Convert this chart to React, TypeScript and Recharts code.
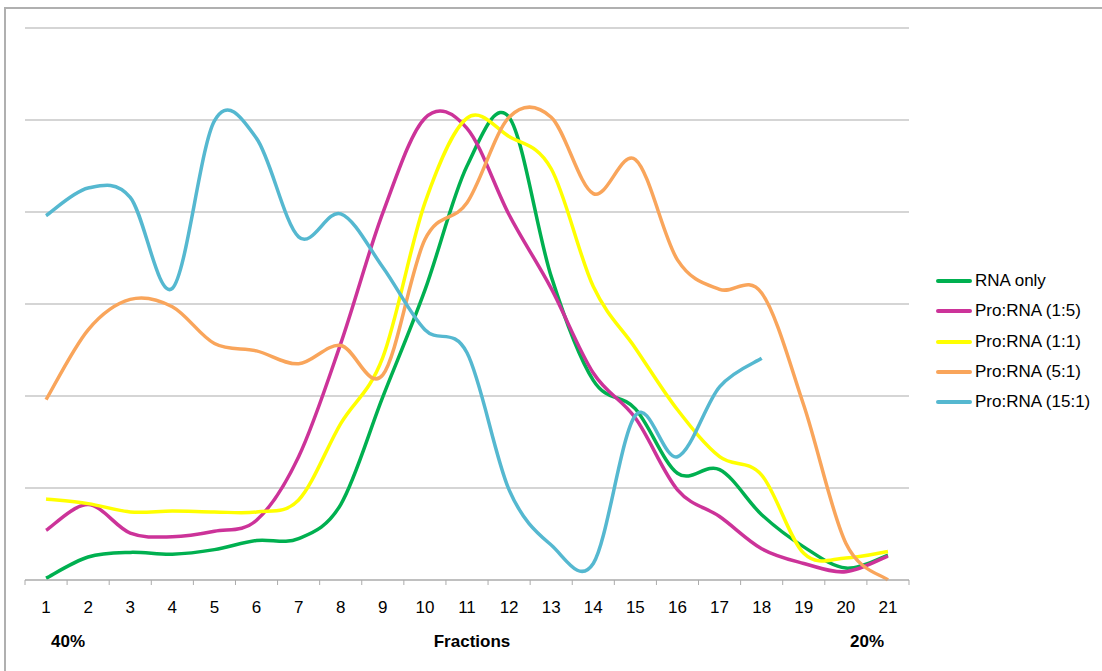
import { LineChart, Line, XAxis, YAxis, CartesianGrid, Legend } from "recharts";

const fractions = ["1", "2", "3", "4", "5", "6", "7", "8", "9", "10", "11", "12", "13", "14", "15", "16", "17", "18", "19", "20", "21"];

const rnaOnly = [0.2, 2.5, 3.0, 2.8, 3.3, 4.3, 4.5, 8.2, 19.9, 31.5, 45, 50.3, 33, 21.7, 18.6, 11.6, 12.0, 7.1, 3.6, 1.3, 2.7];
const pro1to5 = [5.4, 8.2, 5.1, 4.7, 5.3, 6.5, 13.4, 25.7, 39.9, 50.2, 49.1, 39.7, 31.7, 22.5, 17.6, 9.8, 6.9, 3.4, 1.8, 0.9, 2.6];
const pro1to1 = [8.8, 8.3, 7.4, 7.5, 7.4, 7.4, 8.7, 17.0, 24.2, 41.0, 50.2, 48.2, 44.7, 31.9, 25.2, 18.5, 13.4, 11.4, 2.9, 2.4, 3.1];
const pro5to1 = [19.6, 27.2, 30.5, 29.7, 25.7, 24.9, 23.5, 25.5, 22.3, 37.0, 41.0, 50.3, 50.3, 42.0, 45.7, 34.8, 31.6, 31.2, 19.0, 4.0, 0];
const pro15to1 = [39.6, 42.6, 41.6, 31.7, 49.9, 48.0, 37.3, 39.8, 34.0, 27.2, 24.7, 9.8, 3.8, 1.8, 17.9, 13.4, 21.0, 24.1, null, null, null];

const yTicks = [0, 10, 20, 30, 40, 50, 60];

const SERIES = [
  { key: "rna", name: "RNA only", color: "#00B050", values: rnaOnly },
  { key: "p15", name: "Pro:RNA (1:5)", color: "#CC3399", values: pro1to5 },
  { key: "p11", name: "Pro:RNA (1:1)", color: "#FFFF00", values: pro1to1 },
  { key: "p51", name: "Pro:RNA (5:1)", color: "#F9A55B", values: pro5to1 },
  { key: "p151", name: "Pro:RNA (15:1)", color: "#55B8D0", values: pro15to1 },
];

const data = fractions.map((f, i) => {
  const row: Record<string, any> = { fraction: f };
  SERIES.forEach((s) => (row[s.key] = s.values[i]));
  return row;
});

const FONT = "'Liberation Sans', Arial, sans-serif";
const GRID = "#ABABAB";
const PLOT_LEFT = 25;
const PLOT_W = 884;
const BAND = PLOT_W / fractions.length;

// Excel-style smoothed line (Catmull-Rom through every point)
function excelSmooth(context: any) {
  let pts: number[][] = [];
  return {
    areaStart() {},
    areaEnd() {},
    lineStart() {
      pts = [];
    },
    point(x: number, y: number) {
      pts.push([+x, +y]);
    },
    lineEnd() {
      if (!pts.length) return;
      context.moveTo(pts[0][0], pts[0][1]);
      for (let i = 0; i < pts.length - 1; i++) {
        const p0 = pts[i - 1] || pts[i];
        const p1 = pts[i];
        const p2 = pts[i + 1];
        const p3 = pts[i + 2] || p2;
        context.bezierCurveTo(
          p1[0] + (p2[0] - p0[0]) / 6,
          p1[1] + (p2[1] - p0[1]) / 6,
          p2[0] - (p3[0] - p1[0]) / 6,
          p2[1] - (p3[1] - p1[1]) / 6,
          p2[0],
          p2[1]
        );
      }
    },
  };
}

function FractionTick(props: any) {
  const { x, y, payload, index } = props;
  const last = index === fractions.length - 1;
  return (
    <g>
      <line x1={x - BAND / 2} x2={x - BAND / 2} y1={y} y2={y + 5} stroke={GRID} />
      {last && <line x1={x + BAND / 2} x2={x + BAND / 2} y1={y} y2={y + 5} stroke={GRID} />}
      <text x={x} y={y + 33} textAnchor="middle" fontSize={17} fill="#000" fontFamily={FONT}>
        {payload.value}
      </text>
    </g>
  );
}

function LegendBox({ payload }: any) {
  const order = SERIES.map((s) => s.name);
  const items = [...(payload || [])].sort((a: any, b: any) => order.indexOf(a.value) - order.indexOf(b.value));
  return (
    <div style={{ fontFamily: FONT, fontSize: 17, color: "#000" }}>
      {items.map((p: any) => (
        <div key={p.value} style={{ display: "flex", alignItems: "center", height: 30.25 }}>
          <div style={{ width: 36, height: 4, background: p.color, borderRadius: 2, marginRight: 3 }} />
          <span style={{ whiteSpace: "nowrap" }}>{p.value}</span>
        </div>
      ))}
    </div>
  );
}

const bottomLabel = (text: string, center: number) => (
  <div
    style={{
      position: "absolute",
      left: center - 60,
      width: 120,
      top: 633,
      textAlign: "center",
      fontFamily: FONT,
      fontSize: 17,
      fontWeight: 700,
      lineHeight: "17px",
      color: "#000",
    }}
  >
    {text}
  </div>
);

export default function App() {
  return (
    <div style={{ position: "absolute", left: 0, top: 0, width: 1102, height: 671, background: "#fff", overflow: "hidden" }}>
      <div
        style={{
          position: "absolute",
          left: 4,
          top: 7,
          width: 1110,
          height: 680,
          borderTop: "2px solid #B0B0B0",
          borderLeft: "2px solid #B0B0B0",
        }}
      />
      <LineChart
        width={1102}
        height={671}
        data={data}
        margin={{ top: 28, left: PLOT_LEFT, right: 1102 - PLOT_LEFT - PLOT_W, bottom: 61 }}
        style={{ position: "absolute", left: 0, top: 0 }}
      >
        <CartesianGrid vertical={false} stroke={GRID} strokeWidth={1.2} />
        <XAxis
          dataKey="fraction"
          scale="band"
          height={30}
          axisLine={{ stroke: GRID, strokeWidth: 1.2 }}
          tickLine={false}
          tickSize={0}
          tickMargin={0}
          interval={0}
          tick={<FractionTick />}
        />
        <YAxis hide domain={[0, 60]} ticks={yTicks} />
        <Legend
          layout="vertical"
          align="center"
          verticalAlign="middle"
          content={<LegendBox />}
          wrapperStyle={{ left: 936, top: 266, width: 170 }}
        />
        {SERIES.map((s) => (
          <Line
            key={s.key}
            dataKey={s.key}
            name={s.name}
            stroke={s.color}
            strokeWidth={3.5}
            type={excelSmooth as any}
            dot={false}
            activeDot={false}
            isAnimationActive={false}
          />
        ))}
      </LineChart>
      {bottomLabel("40%", 68)}
      {bottomLabel("Fractions", 472)}
      {bottomLabel("20%", 867)}
    </div>
  );
}
